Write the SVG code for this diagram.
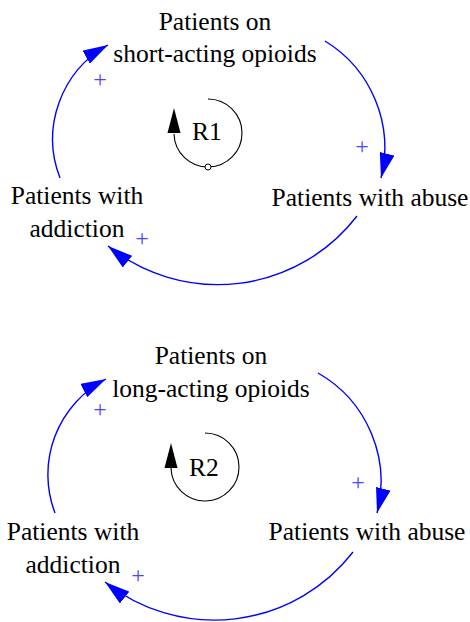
<svg xmlns="http://www.w3.org/2000/svg" width="470" height="622" viewBox="0 0 470 622">
<style>
.lbl{font-family:"Liberation Serif","Times New Roman",serif;font-size:25.5px;fill:#000;text-anchor:middle}
.pol{font-family:"Liberation Serif","Times New Roman",serif;font-size:24px;fill:#4a44ff;text-anchor:middle}
.link{fill:none;stroke:#0000ff;stroke-width:1.4;marker-end:url(#ah)}
.loop{fill:none;stroke:#000;stroke-width:1.1}
.loophead{fill:#000}
.loopdot{fill:#fff;stroke:#000;stroke-width:1}
</style>
<defs>
<marker id="ah" markerUnits="userSpaceOnUse" viewBox="0 0 25 15" markerWidth="25" markerHeight="15" refX="25" refY="7.5" orient="auto">
<path d="M0,0 L25,7.5 L0,15 z" fill="#0000ff"/>
</marker>
</defs>
<rect width="470" height="622" fill="#fff"/>
<g id="connectors">
<path class="link" d="M325,41 A125,125 0 0 1 381,178"/>
<path class="link" d="M357,216 A175.5,175.5 0 0 1 108,246"/>
<path class="link" d="M60,178 A107.6,107.6 0 0 1 108,45"/>
<path class="link" d="M318,373 A125,125 0 0 1 377,513"/>
<path class="link" d="M353,552 A175.5,175.5 0 0 1 105,582"/>
<path class="link" d="M55,513 A107.6,107.6 0 0 1 106,379"/>
</g>
<g id="polarities">
<text class="pol" x="100" y="87">+</text>
<text class="pol" x="362" y="154">+</text>
<text class="pol" x="142" y="246">+</text>
<text class="pol" x="100" y="417">+</text>
<text class="pol" x="358" y="490">+</text>
<text class="pol" x="138" y="583">+</text>
</g>
<g id="node-short-acting">
<text class="lbl" x="215" y="29.5">Patients on</text>
<text class="lbl" x="215" y="62">short-acting opioids</text>
</g>
<g id="node-abuse-1">
<text class="lbl" x="370" y="206">Patients with abuse</text>
</g>
<g id="node-addiction-1">
<text class="lbl" x="77" y="204">Patients with</text>
<text class="lbl" x="77" y="237">addiction</text>
</g>
<g id="loop-R1">
<path class="loop" d="M208,99 A34,34 0 1 1 174,134"/>
<path class="loophead" d="M174,108 L180.5,133 L167.5,133 z"/>
<circle class="loopdot" cx="208" cy="167" r="3"/>
<text class="lbl" x="207" y="140">R1</text>
</g>
<g id="node-long-acting">
<text class="lbl" x="211" y="364">Patients on</text>
<text class="lbl" x="211" y="397">long-acting opioids</text>
</g>
<g id="node-abuse-2">
<text class="lbl" x="367" y="540">Patients with abuse</text>
</g>
<g id="node-addiction-2">
<text class="lbl" x="73" y="540">Patients with</text>
<text class="lbl" x="73" y="573">addiction</text>
</g>
<g id="loop-R2">
<path class="loop" d="M205,433 A34,34 0 1 1 171,468"/>
<path class="loophead" d="M171,443 L177.5,468 L164.5,468 z"/>
<text class="lbl" x="204" y="476">R2</text>
</g>
</svg>
